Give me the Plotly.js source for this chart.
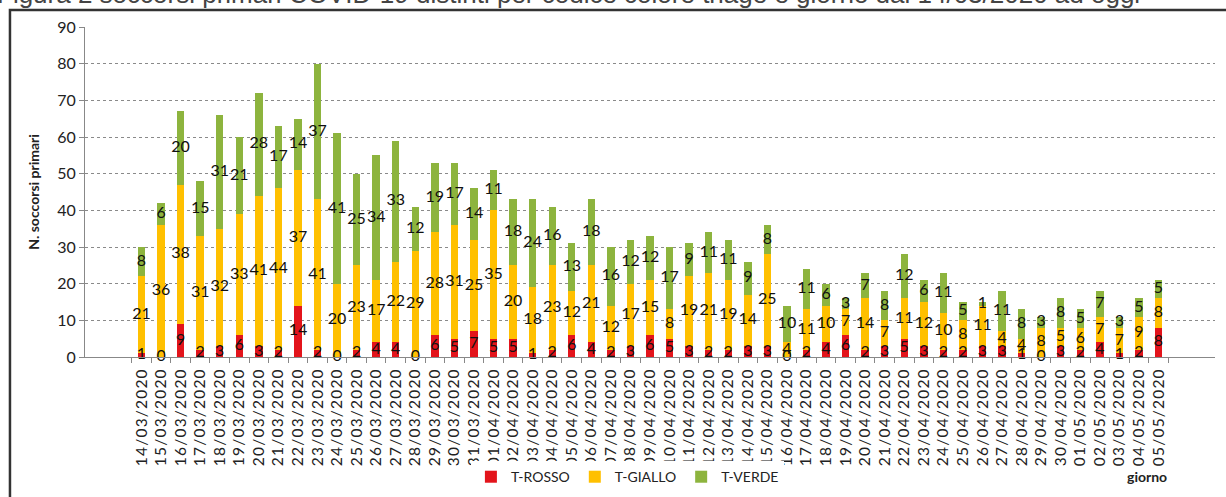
<!DOCTYPE html>
<html><head><meta charset="utf-8">
<script src="https://cdn.plot.ly/plotly-3.0.1.min.js"></script>
<style>
body{margin:0;background:#fff;overflow:hidden}
.xtick text{letter-spacing:1.2px}
</style>
</head><body>
<div id="chart" style="width:1226px;height:497px"></div>
<script>
const days = ["14/03/2020","15/03/2020","16/03/2020","17/03/2020","18/03/2020","19/03/2020","20/03/2020","21/03/2020","22/03/2020","23/03/2020","24/03/2020","25/03/2020","26/03/2020","27/03/2020","28/03/2020","29/03/2020","30/03/2020","31/03/2020","01/04/2020","02/04/2020","03/04/2020","04/04/2020","05/04/2020","06/04/2020","07/04/2020","08/04/2020","09/04/2020","10/04/2020","11/04/2020","12/04/2020","13/04/2020","14/04/2020","15/04/2020","16/04/2020","17/04/2020","18/04/2020","19/04/2020","20/04/2020","21/04/2020","22/04/2020","23/04/2020","24/04/2020","25/04/2020","26/04/2020","27/04/2020","28/04/2020","29/04/2020","30/04/2020","01/05/2020","02/05/2020","03/05/2020","04/05/2020","05/05/2020"];
const rosso  = [1,0,9,2,3,6,3,2,14,2,0,2,4,4,0,6,5,7,5,5,1,2,6,4,2,3,6,5,3,2,2,3,3,0,2,4,6,2,3,5,3,2,2,3,3,1,0,3,2,4,1,2,8];
const giallo = [21,36,38,31,32,33,41,44,37,41,20,23,17,22,29,28,31,25,35,20,18,23,12,21,12,17,15,8,19,21,19,14,25,4,11,10,7,14,7,11,12,10,8,11,4,4,8,5,6,7,7,9,8];
const verde  = [8,6,20,15,31,21,28,17,14,37,41,25,34,33,12,19,17,14,11,18,24,16,13,18,16,12,12,17,9,11,11,9,8,10,11,6,3,7,8,12,6,11,5,1,11,8,3,8,5,7,3,5,5];
const seriesNames = ["T-ROSSO","T-GIALLO","T-VERDE"];
const yTicks = [0,10,20,30,40,50,60,70,80,90];

const colors = ["#E3141B","#FFC000","#8DB43E"];
const series = [rosso, giallo, verde];
const font = "Lato, 'Open Sans', sans-serif";

const traces = [];
series.forEach((vals, i) => {
  traces.push({
    type: "bar", name: seriesNames[i], x: days, y: vals,
    marker: {color: colors[i]}, hoverinfo: "x+y+name"
  });
});
// data labels at the centre of each segment
series.forEach((vals, i) => {
  const ys = vals.map((v, k) => {
    let base = 0;
    for (let j = 0; j < i; j++) base += series[j][k];
    return base + v / 2;
  });
  traces.push({
    type: "scatter", mode: "text", x: days, y: ys,
    text: vals.map(String), textposition: "middle center",
    textfont: {family: font, size: 16, color: "#111"},
    showlegend: false, hoverinfo: "skip", cliponaxis: false
  });
});

const layout = {
  width: 1226, height: 497,
  margin: {l: 85, r: 11, t: 27, b: 140, autoexpand: false},
  barmode: "stack", bargap: 0.62,
  paper_bgcolor: "#fff", plot_bgcolor: "#fff",
  font: {family: font, color: "#222"},
  xaxis: {
    type: "category", tickangle: -90, tickson: "boundaries",
    ticks: "outside", ticklen: 5, tickcolor: "#888",
    showline: true, linecolor: "#888", linewidth: 1,
    showgrid: false, tickfont: {family: font, size: 15.5, color: "#222"},
    ticklabelstandoff: 4, automargin: false
  },
  yaxis: {
    range: [0, 90], tickvals: yTicks, ticks: "outside", ticklen: 5, tickcolor: "#888",
    showline: true, linecolor: "#888", linewidth: 1,
    gridcolor: "#8a8a8a", griddash: "dot", gridwidth: 1, zeroline: false,
    tickfont: {family: font, size: 16, color: "#222"},
    title: {text: "<b>N. soccorsi primari</b>", font: {family: font, size: 14, color: "#222"}, standoff: 14},
    automargin: false
  },
  showlegend: true,
  legend: {
    orientation: "h", x: 0.48, xanchor: "center",
    yref: "container", y: 0.04, yanchor: "middle",
    font: {family: font, size: 14, color: "#222"}, itemwidth: 30,
    traceorder: "normal"
  },
  shapes: [
    {type: "path", xref: "paper", yref: "paper",
     path: "M -0.0664 -0.5 L -0.0664 1.0515 L 1.03 1.0515",
     line: {color: "#333", width: 2.5}, layer: "above"}
  ],
  annotations: [
    {text: "<b>giorno</b>", xref: "paper", yref: "paper", x: 0.94, y: -0.362,
     xanchor: "center", yanchor: "middle", showarrow: false,
     font: {family: font, size: 14, color: "#222"}},
    {text: "Figura 2 soccorsi primari COVID-19 distinti per codice colore triage e giorno dal 14/03/2020 ad oggi",
     xref: "paper", yref: "paper", x: -0.08, y: 1.099, xanchor: "left", yanchor: "middle",
     showarrow: false, font: {family: "Liberation Sans, Arial, sans-serif", size: 26, color: "#444"}}
  ]
};

Plotly.newPlot("chart", traces, layout, {displayModeBar: false, staticPlot: true});
</script>
</body></html>
